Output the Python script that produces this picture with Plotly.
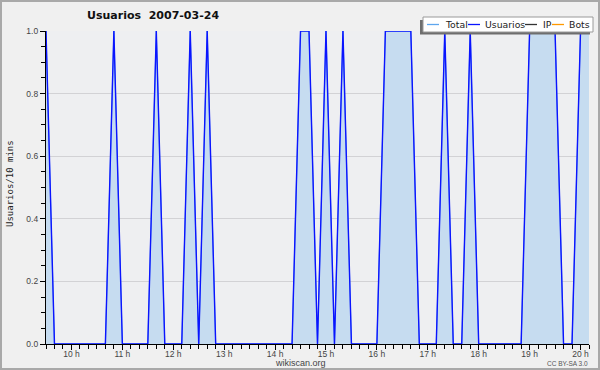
import pandas as pd
import plotly.graph_objects as go

# ---- data ----
start = "2007-03-24 09:30"
n_points = 65
times = pd.date_range(start, periods=n_points, freq="10min")

usuarios = [
    1, 0, 0, 0, 0, 0, 0, 0, 1, 0,
    0, 0, 0, 1, 0, 0, 0, 1, 0, 1,
    0, 0, 0, 0, 0, 0, 0, 0, 0, 0,
    1, 1, 0, 1, 0, 1, 0, 0, 0, 0,
    1, 1, 1, 1, 0, 0, 0, 1, 0, 0,
    1, 0, 0, 0, 0, 0, 0, 1, 1, 1,
    1, 0, 0, 1, 1,
]
total = list(usuarios)

hour_ticks = ["2007-03-24 %02d:00" % h for h in range(10, 21)]
hour_labels = ["%d h" % h for h in range(10, 21)]

series_names = ["Total", "Usuarios", "IP", "Bots"]
series_colors = ["#5ea6ee", "#0a14ff", "#333333", "#ff9900"]

title_text = "Usuarios\u00a0\u00a02007-03-24"
y_title = "Usuarios/10 mins"

# ---- layout geometry ----
WIDTH, HEIGHT = 600, 370
L, R, T, B = 46, 11, 31, 26
PW = WIDTH - L - R
PH = HEIGHT - T - B


def px(x):
    return (x - L) / PW


def py(y):
    return (HEIGHT - B - y) / PH


fig = go.Figure()
fig.add_trace(go.Scatter(
    x=times, y=total, mode="lines", name="Total",
    line=dict(color=series_colors[0], width=1),
    fill="tozeroy", fillcolor="#c6dcf0", showlegend=False,
))
fig.add_trace(go.Scatter(
    x=times, y=usuarios, mode="lines", name="Usuarios",
    line=dict(color=series_colors[1], width=1.4), showlegend=False,
))

shapes = []
annotations = []

# outer frame
shapes.append(dict(type="rect", xref="paper", yref="paper",
                   x0=px(1), x1=px(599), y0=py(1), y1=py(369),
                   line=dict(color="#a9a9a9", width=2), layer="below"))

# legend (manual)
shapes.append(dict(type="rect", xref="paper", yref="paper",
                   x0=px(420), x1=px(590), y0=py(20), y1=py(34.5),
                   fillcolor="#6e6e6e", line=dict(width=0)))
shapes.append(dict(type="rect", xref="paper", yref="paper",
                   x0=px(423), x1=px(593), y0=py(17), y1=py(32),
                   fillcolor="white", line=dict(color="#9a9a9a", width=1)))
legend_line_x = [427, 468, 525, 552]
legend_text_x = [443, 483, 541, 567]
for name, col, lx, tx in zip(series_names, series_colors, legend_line_x, legend_text_x):
    shapes.append(dict(type="line", xref="paper", yref="paper",
                       x0=px(lx), x1=px(lx + 12), y0=py(24.5), y1=py(24.5),
                       line=dict(color=col, width=1.3)))
    annotations.append(dict(text=name, xref="paper", yref="paper",
                            x=px(tx), y=py(24.5), xanchor="left", yanchor="middle",
                            showarrow=False,
                            font=dict(family="DejaVu Sans", size=9.3, color="#222")))

# title
annotations.append(dict(text=title_text, xref="paper", yref="paper",
                        x=px(85), y=py(16), xanchor="left", yanchor="middle",
                        showarrow=False,
                        font=dict(family="DejaVu Sans", size=11, color="#111",
                                  weight="bold")))
# y title
annotations.append(dict(text=y_title, xref="paper", yref="paper",
                        x=px(10), y=py(184), xanchor="center", yanchor="middle",
                        textangle=-90, showarrow=False,
                        font=dict(family="DejaVu Sans Mono", size=9, color="#222")))
# x title
annotations.append(dict(text="wikiscan.org", xref="paper", yref="paper",
                        x=px(300), y=py(363), xanchor="center", yanchor="middle",
                        showarrow=False,
                        font=dict(family="Liberation Sans", size=9, color="#444")))
annotations.append(dict(text="CC BY-SA 3.0", xref="paper", yref="paper",
                        x=px(590), y=py(363), xanchor="right", yanchor="middle",
                        showarrow=False,
                        font=dict(family="Liberation Sans", size=6.5, color="#555")))

fig.update_layout(
    width=WIDTH, height=HEIGHT,
    margin=dict(l=L, r=R, t=T, b=B, pad=0),
    paper_bgcolor="#f0f0f0", plot_bgcolor="#eeeff1",
    showlegend=False,
    shapes=shapes, annotations=annotations,
    xaxis=dict(
        type="date",
        range=[times[0], times[-1]],
        tickmode="array", tickvals=hour_ticks, ticktext=hour_labels,
        ticks="outside", ticklen=5, tickcolor="black", tickwidth=1,
        ticklabelstandoff=-3,
        showline=True, linecolor="black", linewidth=1.2,
        showgrid=False, zeroline=False,
        tickfont=dict(family="Liberation Sans", size=8.5, color="#444"),
        minor=dict(ticks="outside", ticklen=4, tickcolor="black",
                   dtick=600000, tick0=start, showgrid=False),
        fixedrange=True,
    ),
    yaxis=dict(
        range=[0, 1], dtick=0.2, tickformat=".1f",
        ticks="outside", ticklen=5, tickcolor="black", tickwidth=1,
        showline=True, linecolor="black", linewidth=1.2,
        showgrid=True, gridcolor="#d2d2d5", gridwidth=1, zeroline=False,
        tickfont=dict(family="Liberation Sans", size=8.5, color="#444"),
        minor=dict(ticks="outside", ticklen=4, tickcolor="black",
                   dtick=0.05, showgrid=False),
        fixedrange=True,
    ),
)

fig.write_html(
    "out.html",
    config={"displayModeBar": False},
    post_script="document.body.style.margin='0';document.body.style.overflow='hidden';",
)
